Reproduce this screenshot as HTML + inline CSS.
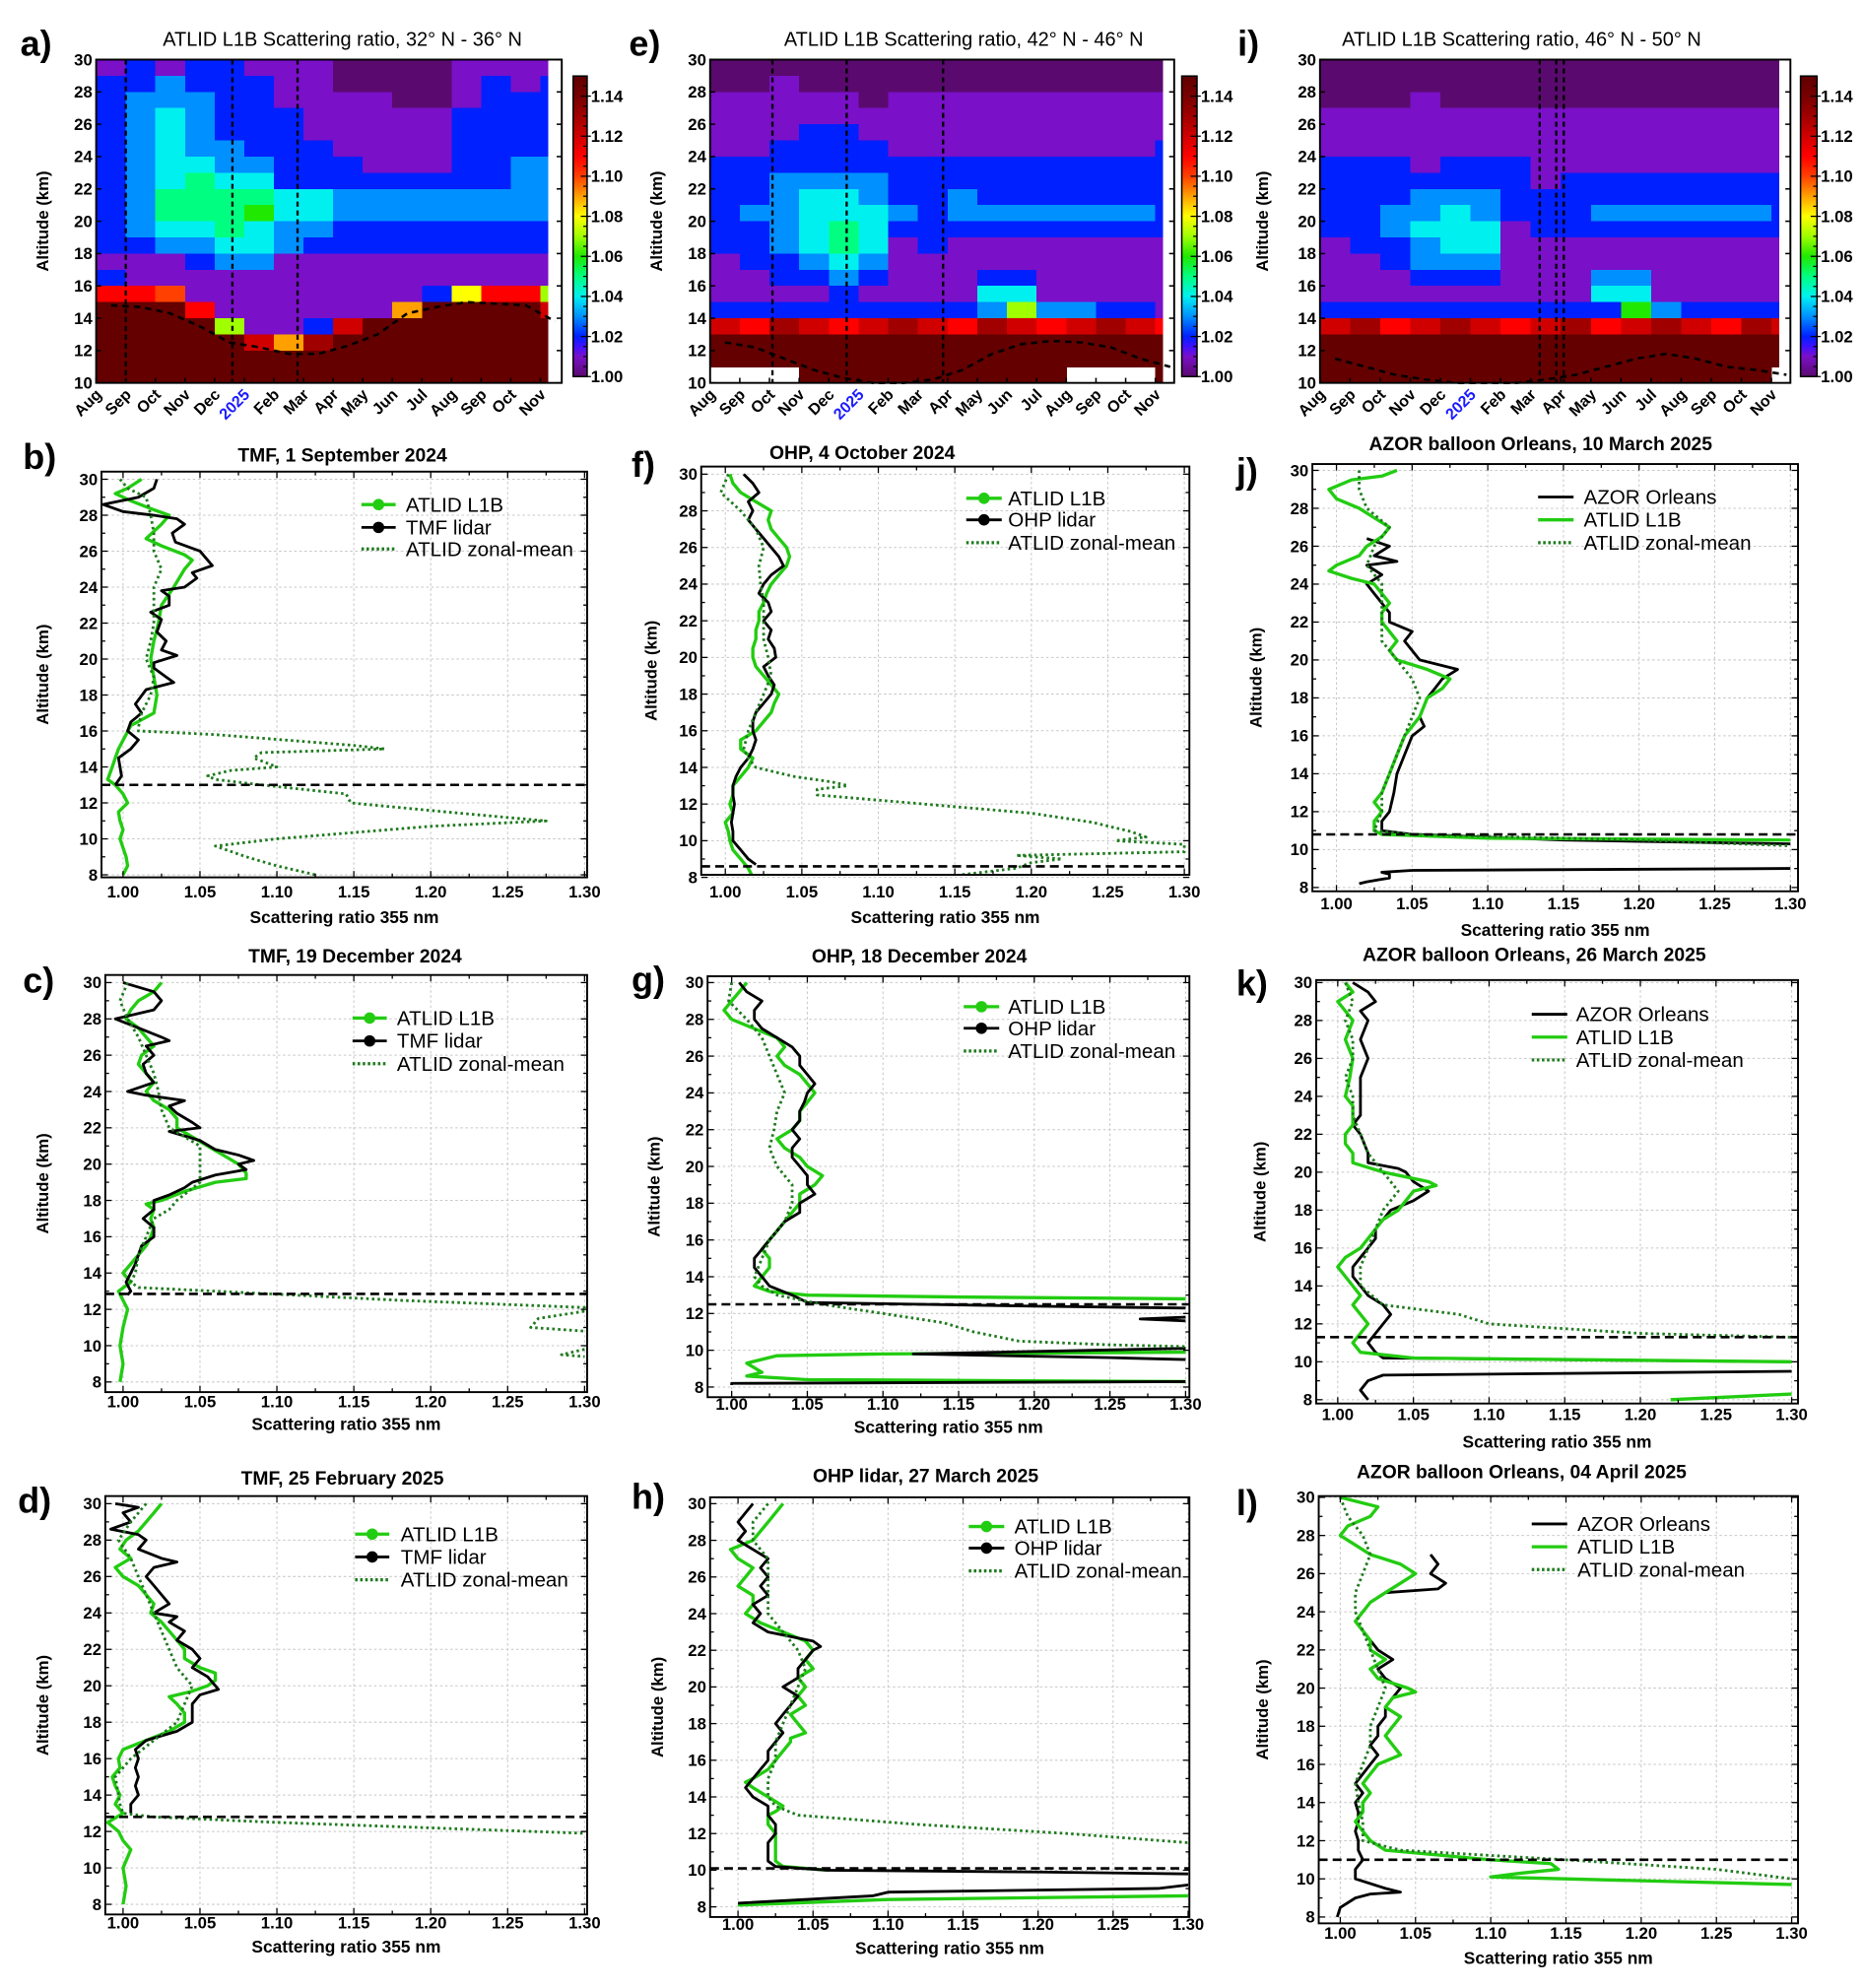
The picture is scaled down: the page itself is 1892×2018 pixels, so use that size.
<!DOCTYPE html>
<html><head><meta charset="utf-8"><title>ATLID L1B scattering ratio figure</title>
<style>
html,body{margin:0;padding:0;background:#fff;}
svg{display:block;font-family:"Liberation Sans",Arial,sans-serif;}
</style></head>
<body>
<svg id="fig" width="1892" height="2018" viewBox="0 0 1470 1568" xmlns="http://www.w3.org/2000/svg">
<defs>
<linearGradient id="cbgrad" x1="0" y1="1" x2="0" y2="0">
<stop offset="0" stop-color="#5a0a6e"/><stop offset="0.0667" stop-color="#7a10c8"/><stop offset="0.1" stop-color="#4010ff"/><stop offset="0.1333" stop-color="#0020ff"/><stop offset="0.2" stop-color="#0090ff"/><stop offset="0.2667" stop-color="#00f0f0"/><stop offset="0.3333" stop-color="#00ff80"/><stop offset="0.4" stop-color="#20e800"/><stop offset="0.4667" stop-color="#a0ff00"/><stop offset="0.5333" stop-color="#ffff00"/><stop offset="0.6" stop-color="#ffa000"/><stop offset="0.6667" stop-color="#ff4000"/><stop offset="0.7333" stop-color="#ff0000"/><stop offset="0.8" stop-color="#d00000"/><stop offset="0.8667" stop-color="#a00000"/><stop offset="0.9333" stop-color="#780000"/><stop offset="1" stop-color="#600000"/>
</linearGradient>
</defs>
</svg>
<script>
// ---------- heatmap data ----------
const months = ["Aug","Sep","Oct","Nov","Dec","2025","Feb","Mar","Apr","May","Jun","Jul","Aug","Sep","Oct","Nov"];
const cbTicks = [1.00,1.02,1.04,1.06,1.08,1.10,1.12,1.14];
const altTicksHeat = [10,12,14,16,18,20,22,24,26,28,30];
// rows from 29-30 km (first) down to 10-11 km (last); char: digit d -> 1.0d, a..f -> 1.10..1.15, w -> no data
const a_rows = ["1212211100001111","2232221100001212","2333221111001222","2343222111112222","2343222111112222","2343322211112222","2344332221112233","2345442222222233","2355554433333333","2355564433333333","2344543322222222","2233443222222222","1112331111111111","2111111111111111","bba1111111128bb7","fffb1111119ffffc","ffff7112cfffffff","fffffc9dffffffff","ffffffffffffffff","ffffffffffffffff"];
const e_rows = ["0000000000000000","0010000000000000","1111101111111111","1111111111111111","1112211111111111","1122221111111112","2222222222222222","2233332222222222","2234432232222222","2334443233333332","2234542222222222","2234541211111111","1223431111111111","1122321112211111","1111211114411111","2222222223733221","cbdcbcdcbdcbcdcb","ffffffffffffffff","ffffffffffffffff","wwwfffffffffwwwf"];
const i_rows = ["0000000000000000","0000000000000000","0001000000000000","1111111111111111","1111111111111111","1111111111111111","2221222111111111","2222222122222222","2223332222222222","2233432223333332","2234441222222222","1223441111111111","1123331111111111","1112221113311111","1111111114411111","2222222222632222","cdbcdcbcdbcdcbdc","ffffffffffffffff","ffffffffffffffff","fffffffffffffffw"];
const a_tropo = [14.8,14.7,14.3,13.5,12.5,12.2,11.8,11.8,12.3,13.0,14.3,14.7,15.0,14.9,14.8,13.8];
const e_tropo = [12.5,12.2,11.5,10.8,10.3,10.0,10.0,10.2,10.8,11.8,12.4,12.6,12.5,12.2,11.5,11.0];
const i_tropo = [11.5,11.0,10.5,10.2,10.0,10.0,10.0,10.2,10.5,11.0,11.5,11.8,11.5,11.0,10.8,10.5];
const a_events = [1.0,4.6,6.8];
const e_events = [2.1,4.6,7.85];
const i_events = [7.3,7.85,8.1];

// ---------- profile data [altitude km, scattering ratio] ----------
const xTicks = [1.00,1.05,1.10,1.15,1.20,1.25,1.30];
const altTicks = [8,10,12,14,16,18,20,22,24,26,28,30];
const b_atlid=[[30,1.012],[29.5,1.003],[29.2,0.995],[28.8,1.005],[28.3,1.02],[28,1.03],[27.5,1.025],[26.7,1.015],[26.3,1.025],[25.8,1.04],[25.5,1.045],[25,1.04],[24,1.033],[23,1.025],[22,1.023],[21,1.02],[20,1.018],[19,1.02],[18,1.022],[17,1.02],[16.3,1.005],[15,0.997],[14.5,0.995],[14,0.993],[13.3,0.99],[13,0.995],[12.5,1.0],[12,1.003],[11.5,0.997],[11,0.998],[10.5,1.0],[10,0.998],[9.5,1.0],[9,1.002],[8.5,1.003],[8,1.0]];
const b_lidar=[[30,1.022],[29.5,1.02],[29,1.01],[28.6,0.987],[28.2,1.0],[28,1.02],[27.8,1.035],[27.5,1.04],[27,1.032],[26.5,1.034],[26,1.05],[25.5,1.055],[25.2,1.058],[24.8,1.045],[24.5,1.048],[24,1.04],[23.8,1.025],[23.5,1.03],[23,1.03],[22.6,1.018],[22.2,1.025],[21.5,1.022],[21,1.028],[20.5,1.025],[20.2,1.035],[19.8,1.02],[19.5,1.02],[19,1.028],[18.7,1.033],[18.3,1.015],[17.5,1.008],[17,1.012],[16.5,1.005],[16,1.003],[15.5,1.01],[15,1.005],[14.5,0.997],[14,0.998],[13.5,0.999],[13,0.995]];
const b_zonal=[[30,0.998],[29.5,1.003],[29,1.015],[28,1.018],[27,1.02],[26,1.02],[25,1.025],[24,1.02],[23,1.02],[22,1.02],[21,1.018],[20,1.015],[19,1.02],[18,1.018],[17,1.012],[16.2,1.01],[16,1.01],[15.8,1.06],[15.2,1.15],[15,1.17],[14.8,1.09],[14.5,1.085],[14,1.1],[13.8,1.07],[13.5,1.055],[13.3,1.06],[13,1.09],[12.5,1.145],[12,1.148],[11.5,1.21],[11,1.275],[10.7,1.2],[10,1.1],[9.6,1.06],[9,1.08],[8.5,1.1],[8,1.125]];
const b_tropo=13.0;
const c_atlid=[[30,1.025],[29.5,1.02],[29,1.01],[28.5,1.005],[28,1.002],[27.5,1.01],[27,1.015],[26.5,1.02],[26,1.012],[25.5,1.01],[25,1.015],[24.5,1.02],[24,1.015],[23.5,1.02],[23,1.03],[22.5,1.035],[22,1.035],[21.5,1.045],[21,1.055],[20.5,1.065],[20,1.075],[19.5,1.08],[19.2,1.08],[19,1.06],[18.5,1.04],[18,1.025],[17.8,1.015],[17.5,1.02],[17,1.018],[16.5,1.02],[16,1.018],[15.5,1.015],[15,1.01],[14.5,1.005],[14,1.0],[13.5,1.005],[13,0.997],[12.5,1.0],[12,1.003],[11,1.0],[10,0.998],[9,1.0],[8,0.998]];
const c_lidar=[[30,1.0],[29.5,1.02],[29,1.025],[28.5,1.02],[28,0.995],[27.5,1.01],[27,1.025],[26.8,1.03],[26.5,1.015],[26,1.02],[25.5,1.013],[25,1.015],[24.5,1.02],[24,1.003],[23.8,1.015],[23.5,1.04],[23.2,1.03],[22.8,1.035],[22.3,1.045],[22,1.05],[21.8,1.03],[21.3,1.05],[20.8,1.06],[20.5,1.075],[20.2,1.085],[20,1.075],[19.7,1.08],[19.4,1.06],[19,1.045],[18.7,1.04],[18.3,1.03],[18,1.02],[17.5,1.02],[17,1.013],[16.5,1.02],[16,1.02],[15.5,1.012],[15,1.01],[14.5,1.008],[14,1.005],[13.5,1.002],[13,1.005],[12.8,1.003]];
const c_zonal=[[30,1.003],[29,0.998],[28,1.003],[27,1.01],[26,1.015],[25,1.02],[24,1.023],[23,1.025],[22,1.03],[21,1.05],[20,1.05],[19,1.05],[18,1.035],[17.5,1.03],[17,1.02],[16,1.015],[15,1.01],[14,1.008],[13.5,1.005],[13.2,1.01],[13,1.06],[12.5,1.18],[12.1,1.3],[11.9,1.3],[11.5,1.27],[11,1.265],[10.8,1.3],[null,null],[9.8,1.3],[9.5,1.285],[9.4,1.3]];
const c_tropo=12.85;
const d_atlid=[[30,1.025],[29.5,1.02],[29,1.015],[28.5,1.01],[28,1.002],[27.5,0.998],[27,1.005],[26.5,0.995],[26,1.0],[25.5,1.01],[25,1.015],[24.5,1.02],[24,1.018],[23.5,1.025],[23,1.03],[22.5,1.035],[22,1.04],[21.5,1.04],[21,1.05],[20.7,1.06],[20.3,1.06],[20,1.055],[19.7,1.045],[19.4,1.03],[19,1.035],[18.5,1.04],[18,1.04],[17.5,1.03],[17,1.015],[16.5,1.0],[16,0.997],[15.5,0.998],[15,0.993],[14.5,0.995],[14,0.998],[13.5,0.995],[13,1.0],[12.5,0.99],[12,0.997],[11.5,1.0],[11,1.005],[10,1.0],[9,1.002],[8,1.0]];
const d_lidar=[[30,0.995],[29.8,1.01],[29.5,1.0],[29,1.005],[28.6,0.992],[28.3,1.01],[28,1.015],[27.5,1.01],[27,1.025],[26.8,1.035],[26.5,1.02],[26,1.015],[25.5,1.02],[25,1.025],[24.5,1.03],[24,1.02],[23.8,1.035],[23.5,1.03],[23,1.04],[22.5,1.035],[22,1.045],[21.5,1.05],[21,1.045],[20.5,1.055],[20,1.06],[19.8,1.062],[19.5,1.05],[19,1.045],[18.5,1.045],[18,1.045],[17.5,1.035],[17,1.015],[16.5,1.008],[16,1.01],[15.5,1.008],[15,1.01],[14.5,1.008],[14,1.01],[13.5,1.005],[13,1.005]];
const d_zonal=[[30,1.015],[29,1.005],[28,0.997],[27,1.005],[26,1.01],[25,1.015],[24,1.02],[23,1.025],[22,1.03],[21,1.035],[20,1.045],[19,1.04],[18,1.035],[17,1.02],[16,1.005],[15,0.995],[14,0.997],[13.5,0.998],[13,1.0],[12.8,1.02],[12.5,1.1],[12.2,1.2],[11.9,1.3]];
const d_tropo=12.8;
const f_atlid=[[30,1.003],[29.5,1.005],[29,1.01],[28.5,1.02],[28,1.03],[27.5,1.028],[27,1.03],[26.5,1.035],[26,1.04],[25.5,1.042],[25,1.04],[24.5,1.035],[24,1.03],[23.5,1.027],[23,1.025],[22.5,1.022],[22,1.022],[21.5,1.02],[21,1.02],[20.5,1.018],[20,1.018],[19.5,1.02],[19,1.025],[18.5,1.03],[18,1.035],[17.5,1.032],[17,1.03],[16.5,1.025],[16,1.02],[15.5,1.01],[15,1.01],[14.5,1.018],[14,1.015],[13.5,1.01],[13,1.005],[12.5,1.005],[12,1.003],[11.5,1.005],[11,1.0],[10.5,1.002],[10,1.003],[9.5,1.005],[9,1.01],[8.5,1.015],[8,1.018]];
const f_lidar=[[30,1.012],[29.5,1.018],[29,1.022],[28.5,1.015],[28,1.018],[27.5,1.015],[27,1.02],[26.5,1.025],[26,1.03],[25.5,1.035],[25,1.038],[24.5,1.03],[24,1.025],[23.5,1.022],[23,1.028],[22.5,1.03],[22,1.025],[21.5,1.03],[21,1.028],[20.5,1.032],[20,1.033],[19.5,1.025],[19,1.028],[18.5,1.032],[18,1.03],[17.5,1.025],[17,1.02],[16.5,1.018],[16,1.018],[15.5,1.02],[15,1.018],[14.5,1.015],[14,1.01],[13.5,1.007],[13,1.005],[12.5,1.005],[12,1.006],[11.5,1.005],[11,1.004],[10.5,1.005],[10,1.005],[9.5,1.01],[9,1.015],[8.7,1.02]];
const f_zonal=[[30,1.002],[29,0.997],[28,1.01],[27,1.02],[26,1.025],[25,1.022],[24,1.023],[23,1.025],[22,1.025],[21,1.025],[20,1.028],[19,1.03],[18,1.025],[17,1.02],[16,1.015],[15,1.012],[14.5,1.015],[14,1.02],[13.5,1.045],[13.2,1.07],[13,1.08],[12.8,1.06],[12.5,1.06],[12,1.13],[11.5,1.2],[11,1.24],[10.5,1.265],[10.2,1.275],[10,1.255],[9.8,1.3],[9.4,1.3],[9.2,1.19],[9,1.22],[8.8,1.2],[8.5,1.19],[8,1.14]];
const f_tropo=8.6;
const g_atlid=[[30,1.01],[29.5,1.005],[29,1.0],[28.5,0.995],[28,1.0],[27.5,1.015],[27,1.03],[26.5,1.035],[26,1.03],[25.5,1.035],[25,1.045],[24.5,1.05],[24,1.055],[23.5,1.05],[23,1.045],[22.5,1.045],[22,1.04],[21.5,1.03],[21,1.035],[20.5,1.045],[20,1.05],[19.5,1.06],[19,1.055],[18.5,1.045],[18,1.045],[17.5,1.04],[17,1.035],[16.5,1.03],[16,1.025],[15.5,1.02],[15,1.025],[14.5,1.025],[14,1.02],[13.5,1.015],[13.2,1.025],[13,1.05],[12.9,1.15],[12.8,1.3],[null,null],[9.9,1.3],[9.8,1.1],[9.7,1.03],[9.3,1.01],[8.8,1.02],[8.6,1.01],[8.4,1.05],[8.3,1.3]];
const g_lidar=[[30,1.005],[29.5,1.01],[29,1.02],[28.5,1.015],[28,1.015],[27.5,1.02],[27,1.03],[26.5,1.04],[26,1.045],[25.5,1.045],[25,1.05],[24.5,1.055],[24,1.05],[23.5,1.048],[23,1.045],[22.5,1.045],[22,1.04],[21.5,1.045],[21,1.04],[20.5,1.04],[20,1.045],[19.5,1.05],[19,1.05],[18.5,1.055],[18,1.045],[17.5,1.045],[17,1.035],[16.5,1.03],[16,1.025],[15.5,1.02],[15,1.015],[14.5,1.015],[14,1.02],[13.5,1.025],[13,1.04],[12.6,1.05],[12.4,1.2],[12.3,1.3],[null,null],[11.8,1.3],[11.7,1.27],[11.6,1.3],[null,null],[10.1,1.3],[9.8,1.12],[9.6,1.25],[9.5,1.3],[null,null],[8.3,1.3],[8.2,1.0],[8.1,1.0]];
const g_zonal=[[30,1.0],[29,0.998],[28,1.01],[27,1.02],[26,1.025],[25,1.03],[24,1.035],[23,1.03],[22,1.028],[21,1.025],[20,1.03],[19,1.04],[18,1.04],[17,1.035],[16,1.025],[15,1.02],[14,1.015],[13.5,1.02],[13,1.03],[12.5,1.06],[12,1.1],[11.5,1.14],[11,1.16],[10.5,1.19],[10.3,1.25],[10.2,1.3]];
const g_tropo=12.5;
const h_atlid=[[30,1.03],[29.5,1.025],[29,1.02],[28.5,1.015],[28,1.01],[27.5,0.995],[27,1.0],[26.5,1.01],[26,1.005],[25.5,1.0],[25,1.01],[24.5,1.01],[24,1.005],[23.5,1.015],[23,1.03],[22.5,1.045],[22,1.05],[21.5,1.045],[21,1.05],[20.5,1.04],[20,1.045],[19.5,1.04],[19,1.045],[18.5,1.035],[18,1.04],[17.5,1.045],[17.2,1.035],[17,1.035],[16.5,1.03],[16,1.025],[15.5,1.02],[15,1.01],[14.8,1.005],[14.5,1.01],[14,1.02],[13.5,1.03],[13.2,1.025],[13,1.02],[12.5,1.02],[12,1.025],[11.5,1.025],[11,1.025],[10.5,1.025],[10.2,1.03],[10,1.06],[null,null],[8.6,1.3],[8.4,1.1],[8.1,1.0]];
const h_lidar=[[30,1.01],[29.5,1.005],[29,1.0],[28.5,1.005],[28,1.0],[27.5,1.01],[27,1.02],[26.5,1.015],[26,1.02],[25.5,1.015],[25,1.02],[24.5,1.01],[24,1.015],[23.5,1.01],[23,1.02],[22.5,1.05],[22.2,1.055],[22,1.05],[21.5,1.045],[21,1.04],[20.5,1.04],[20,1.03],[19.5,1.04],[19,1.035],[18.5,1.03],[18,1.025],[17.5,1.03],[17,1.025],[16.5,1.02],[16,1.02],[15.5,1.015],[15,1.01],[14.5,1.005],[14,1.01],[13.5,1.02],[13,1.02],[12.5,1.025],[12,1.025],[11.5,1.02],[11,1.02],[10.5,1.02],[10.2,1.025],[10,1.06],[9.9,1.2],[9.8,1.3],[null,null],[9.2,1.3],[9.0,1.28],[8.8,1.1],[8.6,1.09],[8.2,1.0]];
const h_zonal=[[30,1.02],[29,1.01],[28,1.01],[27,1.02],[26,1.02],[25,1.02],[24,1.02],[23,1.03],[22,1.04],[21,1.045],[20,1.04],[19,1.035],[18,1.03],[17,1.025],[16,1.025],[15,1.02],[14,1.02],[13.5,1.025],[13,1.04],[12.5,1.12],[12,1.22],[11.5,1.3]];
const h_tropo=10.1;
const j_azor=[[26.4,1.02],[26,1.035],[25.5,1.025],[25.2,1.04],[25,1.02],[24.5,1.03],[24,1.02],[23.5,1.025],[23,1.03],[22.5,1.035],[22,1.035],[21.5,1.05],[21,1.045],[20.5,1.05],[20,1.055],[19.5,1.08],[19,1.07],[18.5,1.065],[18,1.06],[17,1.055],[16.5,1.058],[16,1.05],[15,1.045],[14,1.04],[13,1.038],[12,1.035],[11.5,1.03],[11,1.03],[10.8,1.05],[10.5,1.15],[10.3,1.3],[null,null],[9.0,1.3],[8.9,1.05],[8.8,1.03],[8.7,1.035],[8.5,1.035],[8.3,1.02],[8.2,1.015]];
const j_atlid=[[30,1.04],[29.7,1.03],[29.5,1.01],[29,0.995],[28.5,1.0],[28,1.015],[27.5,1.025],[27,1.035],[26.5,1.03],[26,1.02],[25.5,1.015],[25,1.0],[24.7,0.995],[24.3,1.01],[24,1.025],[23.5,1.03],[23,1.035],[22.5,1.03],[22,1.03],[21.5,1.035],[21,1.04],[20.5,1.035],[20,1.04],[19.5,1.06],[19,1.075],[18.5,1.07],[18,1.06],[17,1.055],[16,1.045],[15,1.04],[14,1.035],[13,1.03],[12.5,1.025],[12,1.03],[11.5,1.025],[11,1.025],[10.8,1.03],[10.6,1.1],[10.5,1.3]];
const j_zonal=[[30,1.015],[29,1.015],[28,1.02],[27,1.035],[26,1.025],[25,1.02],[24,1.03],[23,1.03],[22,1.03],[21,1.03],[20,1.04],[19,1.05],[18,1.055],[17,1.05],[16,1.045],[15,1.04],[14,1.035],[13,1.03],[12,1.03],[11,1.025],[10.8,1.05],[10.5,1.2],[10.2,1.3]];
const j_tropo=10.8;
const k_azor=[[30,1.01],[29.5,1.02],[29,1.025],[28.5,1.015],[28,1.02],[27,1.015],[26,1.02],[25,1.015],[24,1.015],[23,1.015],[22.5,1.01],[22,1.015],[21,1.02],[20.5,1.02],[20.2,1.04],[20,1.045],[19.5,1.05],[19,1.06],[18.5,1.05],[18,1.035],[17.5,1.03],[17,1.025],[16.5,1.025],[16,1.02],[15.5,1.015],[15,1.01],[14.5,1.01],[14,1.015],[13.5,1.02],[13,1.03],[12.5,1.035],[12,1.03],[11.5,1.025],[11,1.02],[10.5,1.025],[10.2,1.03],[10,1.3],[null,null],[9.5,1.3],[9.3,1.03],[9,1.02],[8.5,1.015],[8,1.02]];
const k_atlid=[[30,1.005],[29.5,1.01],[29,1.0],[28.5,1.005],[28,1.01],[27,1.005],[26,1.01],[25,1.008],[24,1.005],[23.5,1.01],[23,1.01],[22.5,1.01],[22,1.005],[21.5,1.005],[21,1.01],[20.5,1.01],[20,1.03],[19.5,1.06],[19.3,1.065],[19,1.05],[18.5,1.045],[18,1.04],[17.5,1.03],[17,1.025],[16.5,1.02],[16,1.015],[15.5,1.005],[15,1.0],[14.5,1.005],[14,1.01],[13.5,1.015],[13,1.01],[12.5,1.015],[12,1.02],[11.5,1.015],[11,1.01],[10.5,1.015],[10.2,1.05],[10,1.3],[null,null],[8.3,1.3],[8,1.22]];
const k_zonal=[[30,1.005],[29,1.01],[28,1.005],[27,1.01],[26,1.01],[25,1.005],[24,1.01],[23,1.01],[22,1.015],[21,1.02],[20,1.03],[19,1.04],[18,1.03],[17,1.025],[16,1.02],[15,1.015],[14,1.015],[13,1.03],[12.5,1.08],[12,1.1],[11.5,1.2],[11.3,1.3]];
const k_tropo=11.3;
const l_azor=[[27,1.06],[26.5,1.065],[26,1.06],[25.5,1.07],[25.2,1.065],[25,1.03],[24.5,1.02],[24,1.015],[23.5,1.01],[23,1.015],[22.5,1.02],[22,1.025],[21.5,1.035],[21,1.025],[20.5,1.03],[20,1.04],[19.5,1.035],[19,1.03],[18.5,1.03],[18,1.025],[17.5,1.025],[17,1.02],[16.5,1.025],[16,1.02],[15.5,1.015],[15,1.01],[14.5,1.015],[14,1.01],[13.5,1.012],[13,1.012],[12.5,1.01],[12,1.012],[11.5,1.012],[11,1.015],[10.5,1.01],[10,1.01],[9.5,1.03],[9.3,1.04],[9.2,1.02],[9,1.01],[8.5,1.0],[8,0.998]];
const l_atlid=[[30,1.0],[29.5,1.025],[29,1.02],[28.5,1.005],[28,1.0],[27.5,1.01],[27,1.02],[26.5,1.04],[26,1.05],[25.5,1.04],[25,1.03],[24.5,1.02],[24,1.015],[23.5,1.01],[23,1.015],[22.5,1.02],[22,1.02],[21.5,1.03],[21,1.02],[20.5,1.025],[20,1.045],[19.8,1.05],[19.5,1.035],[19,1.03],[18.5,1.04],[18,1.035],[17.5,1.03],[17,1.035],[16.5,1.04],[16,1.025],[15.5,1.02],[15,1.015],[14.5,1.02],[14,1.015],[13.5,1.015],[13,1.01],[12.5,1.015],[12,1.02],[11.5,1.03],[11,1.1],[10.8,1.14],[10.5,1.145],[10.3,1.12],[10.1,1.1],[9.9,1.2],[9.7,1.3]];
const l_zonal=[[30,1.0],[29,1.005],[28,1.015],[27,1.02],[26,1.015],[25,1.01],[24,1.01],[23,1.015],[22,1.02],[21,1.025],[20,1.03],[19,1.025],[18,1.02],[17,1.02],[16,1.015],[15,1.01],[14,1.012],[13,1.015],[12,1.015],[11.5,1.04],[11,1.15],[10.5,1.25],[10,1.3]];
const l_tropo=11.0;

// ---------- helpers ----------
const NS='http://www.w3.org/2000/svg';
const svg=document.getElementById('fig');
function mk(tag,attrs,parent){const e=document.createElementNS(NS,tag);for(const k in attrs)e.setAttribute(k,attrs[k]);(parent||svg).appendChild(e);return e;}
function txt(parent,x,y,s,attrs){const t=mk('text',Object.assign({x:x,y:y},attrs||{}),parent);t.textContent=s;return t;}
function cmap(v){
  const st=[[1.00,[90,10,110]],[1.01,[122,16,200]],[1.015,[64,16,255]],[1.02,[0,32,255]],[1.03,[0,144,255]],[1.04,[0,240,240]],[1.05,[0,255,128]],[1.06,[32,232,0]],[1.07,[160,255,0]],[1.08,[255,255,0]],[1.09,[255,160,0]],[1.10,[255,64,0]],[1.11,[255,0,0]],[1.12,[208,0,0]],[1.13,[160,0,0]],[1.14,[120,0,0]],[1.15,[100,0,0]]];
  if(v<=st[0][0])return 'rgb('+st[0][1]+')';
  for(let i=1;i<st.length;i++){if(v<=st[i][0]){const t=(v-st[i-1][0])/(st[i][0]-st[i-1][0]);const c=st[i][1].map((q,k)=>Math.round(st[i-1][1][k]+t*(q-st[i-1][1][k])));return 'rgb('+c+')';}}
  return 'rgb(100,0,0)';
}
function decode(ch){if(ch>='0'&&ch<='9')return 1+0.01*(+ch);return 1.10+0.01*(ch.charCodeAt(0)-97);}

// ---------- heatmap panels ----------
function drawHeat(cfg,rows,tropo,events){
  const g=mk('g',{});
  
  
  const mw=(cfg.dataRight-cfg.x0)/15.25;
  const xs=m=>cfg.x0+m*mw;
  const ys=a=>cfg.yBot-(a-10)*(cfg.yBot-cfg.yTop)/20;
  const cells=mk('g',{'shape-rendering':'crispEdges'},g);
  
  
  rows.forEach((row,ri)=>{
    const alt=29-ri;
    for(let c=0;c<row.length;c++){
      const ch=row[c]; if(ch==='w')continue;
      const x0=xs(c),x1=c===row.length-1?cfg.dataRight:xs(c+1);
      const r=mk('rect',{x:x0,y:ys(alt+1),width:x1-x0+0.4,height:ys(alt)-ys(alt+1)+0.4,fill:cmap(decode(ch))},cells);
      
      
    }
  });
  let d='';tropo.forEach((t,i)=>{d+=(i?'L':'M')+xs(i+0.5).toFixed(1)+' '+ys(t).toFixed(1);});
  const tl=mk('path',{d:d,fill:'none',stroke:'#000','stroke-width':2,'stroke-dasharray':'5 4'},g);
  
  
  events.forEach(m=>{
    const l=mk('line',{x1:xs(m),x2:xs(m),y1:cfg.yTop,y2:cfg.yBot,stroke:'#000','stroke-width':1.8,'stroke-dasharray':'4 3'},g);
    
    
  });
  const fr=mk('rect',{x:cfg.x0,y:cfg.yTop,width:cfg.frameRight-cfg.x0,height:cfg.yBot-cfg.yTop,fill:'none',stroke:'#000','stroke-width':1.5},g);
  
  
  altTicksHeat.forEach(a=>{
    mk('line',{x1:cfg.x0,x2:cfg.x0+4,y1:ys(a),y2:ys(a),stroke:'#000','stroke-width':1.2},g);
    mk('line',{x1:cfg.frameRight-4,x2:cfg.frameRight,y1:ys(a),y2:ys(a),stroke:'#000','stroke-width':1.2},g);
    const t=txt(g,cfg.x0-3,ys(a)+4.5,String(a),{'text-anchor':'end','font-size':13,'font-weight':'bold'});
    
    
  });
  months.forEach((mn,i)=>{
    mk('line',{x1:xs(i),x2:xs(i),y1:cfg.yBot,y2:cfg.yBot-4,stroke:'#000','stroke-width':1.2},g);
    const x=xs(i)+5,y=cfg.yBot+10;
    const t=txt(g,x,y,mn,{'text-anchor':'end','font-size':12.5,'font-weight':'bold',fill:mn==='2025'?'#1a1aff':'#000',transform:'rotate(-45 '+x+' '+y+')'});
    
    
  });
  const yl=txt(g,cfg.ylx,(cfg.yTop+cfg.yBot)/2,'Altitude (km)',{'text-anchor':'middle','font-size':13,'font-weight':'bold',transform:'rotate(-90 '+cfg.ylx+' '+((cfg.yTop+cfg.yBot)/2)+')'});
  
  
  const ti=txt(g,cfg.tx,36,cfg.title,{'text-anchor':'middle','font-size':15.5});
  
  
  const pl=txt(g,cfg.lx,44,cfg.id+')',{'font-size':28,'font-weight':'bold'});
  
  
  const cb=mk('g',{},g);
  
  
  const cbTop=60,cbBot=297;
  const cv=v=>cbBot-(v-1)*(cbBot-cbTop)/0.15;
  mk('rect',{x:cfg.cbx,y:cbTop,width:cfg.cbw,height:cbBot-cbTop,fill:'url(#cbgrad)',stroke:'#000','stroke-width':1.2},cb);
  for(let k=0;k<=30;k++){const v=1+k*0.005;const major=k%4===0;
    mk('line',{x1:cfg.cbx+cfg.cbw-(major?5:3),x2:cfg.cbx+cfg.cbw+(major?3:0),y1:cv(v),y2:cv(v),stroke:'#000','stroke-width':1},cb);}
  cbTicks.forEach(v=>{
    const t=txt(cb,cfg.cbx+cfg.cbw+3,cv(v)+4.5,v.toFixed(2),{'font-size':13,'font-weight':'bold'});
    
    
  });
}
drawHeat({id:'a',x0:75.8,dataRight:432,frameRight:443,yTop:47,yBot:302,cbx:452,cbw:11,title:'ATLID L1B Scattering ratio, 32° N - 36° N',tx:270,lx:16,ylx:38},a_rows,a_tropo,a_events);
drawHeat({id:'e',x0:560,dataRight:917,frameRight:926,yTop:47,yBot:302,cbx:932,cbw:12,title:'ATLID L1B Scattering ratio, 42° N - 46° N',tx:760,lx:496,ylx:522},e_rows,e_tropo,e_events);
drawHeat({id:'i',x0:1041,dataRight:1403,frameRight:1412,yTop:47,yBot:302,cbx:1420,cbw:13,title:'ATLID L1B Scattering ratio, 46° N - 50° N',tx:1200,lx:976,ylx:1000},i_rows,i_tropo,i_events);

// ---------- profile panels ----------
const GREEN='#22cc11', DGREEN='#1f7a1f';
function drawProf(cfg,series,tropo){
  const g=mk('g',{});
  
  
  const [fx0,fy0,fx1,fy1]=cfg.frame;
  const xv=v=>cfg.x100+(v-1)*(cfg.x130-cfg.x100)/0.3;
  const ya=a=>cfg.y30+(30-a)*(cfg.y8-cfg.y30)/22;
  const clipId='clip-'+cfg.id;
  const cp=mk('clipPath',{id:clipId},g);
  mk('rect',{x:fx0,y:fy0,width:fx1-fx0,height:fy1-fy0},cp);
  const grid=mk('g',{stroke:'#c8c8c8','stroke-width':0.8,'stroke-dasharray':'2 2'},g);
  
  
  xTicks.forEach(v=>mk('line',{x1:xv(v),x2:xv(v),y1:fy0,y2:fy1},grid));
  altTicks.forEach(a=>mk('line',{x1:fx0,x2:fx1,y1:ya(a),y2:ya(a)},grid));
  const plot=mk('g',{'clip-path':'url(#'+clipId+')'},g);
  series.forEach(s=>{
    let d='',pen=false;
    s.data.forEach(p=>{if(p[0]===null){pen=false;return;}d+=(pen?'L':'M')+xv(p[1]).toFixed(1)+' '+ya(p[0]).toFixed(1);pen=true;});
    const attrs={d:d,fill:'none',stroke:s.color,'stroke-width':s.w,'stroke-linejoin':'round'};
    if(s.dash)attrs['stroke-dasharray']=s.dash;
    const p=mk('path',attrs,plot);
    
    
  });
  const tl=mk('line',{x1:fx0,x2:fx1,y1:ya(tropo),y2:ya(tropo),stroke:'#000','stroke-width':2,'stroke-dasharray':'7 4'},plot);
  
  
  const fr=mk('rect',{x:fx0,y:fy0,width:fx1-fx0,height:fy1-fy0,fill:'none',stroke:'#000','stroke-width':1.5},g);
  
  
  for(let k=0;k<=12;k++){const v=1+k*0.025;const x=xv(v);const L=k%2?3:5;
    mk('line',{x1:x,x2:x,y1:fy1,y2:fy1-L,stroke:'#000','stroke-width':1},g);
    mk('line',{x1:x,x2:x,y1:fy0,y2:fy0+L,stroke:'#000','stroke-width':1},g);}
  for(let a=8;a<=30;a+=1){const y=ya(a);const L=a%2?3:5;
    mk('line',{x1:fx0,x2:fx0+L,y1:y,y2:y,stroke:'#000','stroke-width':1},g);
    mk('line',{x1:fx1,x2:fx1-L,y1:y,y2:y,stroke:'#000','stroke-width':1},g);}
  xTicks.forEach(v=>{
    const t=txt(g,xv(v),cfg.tickY,v.toFixed(2),{'text-anchor':'middle','font-size':13,'font-weight':'bold'});
    
    
  });
  altTicks.forEach(a=>{
    const t=txt(g,fx0-3,ya(a)+4.5,String(a),{'text-anchor':'end','font-size':13,'font-weight':'bold'});
    
    
  });
  const xl=txt(g,(fx0+fx1)/2,cfg.labelY,'Scattering ratio 355 nm',{'text-anchor':'middle','font-size':13.5,'font-weight':'bold'});
  
  
  const ym=(fy0+fy1)/2;
  const yl=txt(g,cfg.ylx,ym,'Altitude (km)',{'text-anchor':'middle','font-size':13,'font-weight':'bold',transform:'rotate(-90 '+cfg.ylx+' '+ym+')'});
  
  
  const ti=txt(g,cfg.tx,cfg.ty,cfg.title,{'text-anchor':'middle','font-size':15,'font-weight':'bold'});
  
  
  const pl=txt(g,cfg.lx,cfg.ly,cfg.id+')',{'font-size':28,'font-weight':'bold'});
  
  
  const lg=mk('g',{},g);
  
  
  series.forEach((s,i)=>{
    const y=cfg.leg.ys[i];
    const la={x1:cfg.leg.x0,x2:cfg.leg.x1,y1:y,y2:y,stroke:s.color,'stroke-width':s.dash?2.5:s.w};
    if(s.dash)la['stroke-dasharray']='2 2';
    mk('line',la,lg);
    if(s.marker)mk('circle',{cx:(cfg.leg.x0+cfg.leg.x1)/2,cy:y,r:4.5,fill:s.color},lg);
    const t=txt(lg,cfg.leg.tx,y+5.5,s.label,{'font-size':16});
    
    
  });
}
function lidarSeries(atl,lid,zon,lidLabel){return [
  {data:atl,color:GREEN,w:2.6,label:'ATLID L1B',marker:true,name:'atlid-l1b-line'},
  {data:lid,color:'#000',w:2.2,label:lidLabel,marker:true,name:'lidar-line'},
  {data:zon,color:DGREEN,w:2.2,dash:'2 2.5',label:'ATLID zonal-mean',name:'zonal-mean-line'}];}
function azorSeries(az,atl,zon){return [
  {data:az,color:'#000',w:2.2,label:'AZOR Orleans',name:'azor-line'},
  {data:atl,color:GREEN,w:2.6,label:'ATLID L1B',name:'atlid-l1b-line'},
  {data:zon,color:DGREEN,w:2.2,dash:'2 2.5',label:'ATLID zonal-mean',name:'zonal-mean-line'}];}

drawProf({id:'b',frame:[80,372,463,692],x100:97,x130:461,y30:378,y8:690,title:'TMF, 1 September 2024',tx:270,ty:364,lx:18,ly:370,tickY:708,labelY:728,ylx:38,leg:{x0:285,x1:312,tx:320,ys:[398,416,433]}},lidarSeries(b_atlid,b_lidar,b_zonal,'TMF lidar'),b_tropo);
drawProf({id:'c',frame:[83,769,463,1098],x100:97,x130:461,y30:775,y8:1090,title:'TMF, 19 December 2024',tx:280,ty:759,lx:18,ly:783,tickY:1110,labelY:1128,ylx:38,leg:{x0:278,x1:305,tx:313,ys:[803,821,839]}},lidarSeries(c_atlid,c_lidar,c_zonal,'TMF lidar'),c_tropo);
drawProf({id:'d',frame:[83,1180,463,1510],x100:97,x130:461,y30:1186,y8:1502,title:'TMF, 25 February 2025',tx:270,ty:1171,lx:14,ly:1193,tickY:1521,labelY:1540,ylx:38,leg:{x0:280,x1:307,tx:316,ys:[1210,1228,1246]}},lidarSeries(d_atlid,d_lidar,d_zonal,'TMF lidar'),d_tropo);
drawProf({id:'f',frame:[553,368,938,690],x100:572,x130:934,y30:374,y8:692,title:'OHP, 4 October 2024',tx:680,ty:362,lx:498,ly:376,tickY:708,labelY:728,ylx:518,leg:{x0:762,x1:790,tx:795,ys:[393,410,428]}},lidarSeries(f_atlid,f_lidar,f_zonal,'OHP lidar'),f_tropo);
drawProf({id:'g',frame:[558,770,938,1102],x100:577,x130:935,y30:775,y8:1094,title:'OHP, 18 December 2024',tx:725,ty:759,lx:498,ly:782,tickY:1112,labelY:1130,ylx:520,leg:{x0:760,x1:788,tx:795,ys:[794,811,829]}},lidarSeries(g_atlid,g_lidar,g_zonal,'OHP lidar'),g_tropo);
drawProf({id:'h',frame:[560,1181,938,1512],x100:582,x130:937,y30:1186,y8:1504,title:'OHP lidar, 27 March 2025',tx:730,ty:1169,lx:498,ly:1190,tickY:1522,labelY:1541,ylx:523,leg:{x0:764,x1:792,tx:800,ys:[1204,1221,1239]}},lidarSeries(h_atlid,h_lidar,h_zonal,'OHP lidar'),h_tropo);
drawProf({id:'j',frame:[1035,366,1418,703],x100:1054,x130:1412,y30:371,y8:700,title:'AZOR balloon Orleans, 10 March 2025',tx:1215,ty:355,lx:975,ly:381,tickY:717,labelY:738,ylx:995,leg:{x0:1213,x1:1241,tx:1249,ys:[392,410,428]}},azorSeries(j_azor,j_atlid,j_zonal),j_tropo);
drawProf({id:'k',frame:[1038,773,1418,1107],x100:1055,x130:1413,y30:775,y8:1104,title:'AZOR balloon Orleans, 26 March 2025',tx:1210,ty:758,lx:975,ly:785,tickY:1120,labelY:1142,ylx:998,leg:{x0:1208,x1:1236,tx:1243,ys:[800,818,836]}},azorSeries(k_azor,k_atlid,k_zonal),k_tropo);
drawProf({id:'l',frame:[1040,1180,1418,1517],x100:1057,x130:1413,y30:1181,y8:1512,title:'AZOR balloon Orleans, 04 April 2025',tx:1200,ty:1166,lx:975,ly:1195,tickY:1529,labelY:1549,ylx:1000,leg:{x0:1208,x1:1236,tx:1244,ys:[1202,1220,1238]}},azorSeries(l_azor,l_atlid,l_zonal),l_tropo);
</script>
</body></html>
